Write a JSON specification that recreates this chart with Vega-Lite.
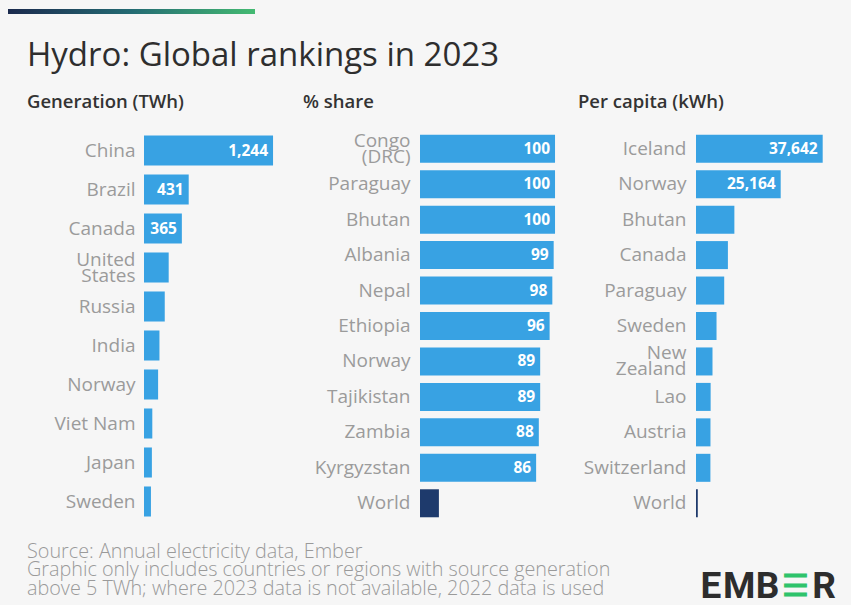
{
  "$schema": "https://vega.github.io/schema/vega-lite/v6.json",
  "background": "#f6f6f6",
  "padding": {"left": 8, "top": 9, "right": 16, "bottom": 14},
  "config": {
    "view": {"stroke": null},
    "font": "Open Sans",
    "axis": {
      "title": null, "ticks": false, "domain": false, "grid": false,
      "labelFont": "Open Sans", "labelFontSize": 19, "labelColor": "#9b9b9b",
      "labelPadding": 9, "labelLineHeight": 16,
      "labelExpr": "split(datum.label, '\\n')",
      "labelOffset": {"condition": {"test": "indexof(datum.label, '\\n') >= 0", "value": -8}, "value": 0}
    },
    "title": {"font": "Open Sans", "color": "#333333"}
  },
  "vconcat": [
    {
      "width": 111, "height": 10,
      "data": {"values": [{"k": "bar"}]},
      "mark": {"type": "rect", "color": {"gradient": "linear", "x1": 0, "x2": 1, "y1": 0, "y2": 0, "stops": [{"offset": 0, "color": "#1b2a4e"}, {"offset": 0.5, "color": "#246b73"}, {"offset": 1, "color": "#44ba72"}]}},
      "encoding": {
        "x": {"datum": -1.2252, "type": "quantitative", "scale": {"domain": [0, 1], "nice": false, "zero": false}, "axis": null},
        "x2": {"datum": 1},
        "y": {"datum": 0.5, "type": "quantitative", "scale": {"domain": [0, 1], "nice": false}, "axis": null},
        "y2": {"datum": 1}
      }
    },
    {
      "title": {"text": "Hydro: Global rankings in 2023", "anchor": "start", "frame": "group", "dx": -117, "fontSize": 33, "fontWeight": 500, "color": "#2e2e2e", "offset": -6, "baseline": "alphabetic"},
      "spacing": 20,
      "hconcat": [
        {
          "width": 139, "height": 390,
          "title": {"text": "Generation (TWh)", "anchor": "start", "frame": "group", "dx": -117, "offset": 5, "fontSize": 18.5, "fontWeight": 600, "baseline": "alphabetic"},
          "data": {"values": [
            {"country": "China", "value": 1244},
            {"country": "Brazil", "value": 431},
            {"country": "Canada", "value": 365},
            {"country": "United\nStates", "value": 238},
            {"country": "Russia", "value": 200},
            {"country": "India", "value": 149},
            {"country": "Norway", "value": 136},
            {"country": "Viet Nam", "value": 80},
            {"country": "Japan", "value": 76},
            {"country": "Sweden", "value": 67}
          ]},
          "encoding": {
            "y": {"field": "country", "type": "nominal", "sort": null, "scale": {"paddingInner": 0.23, "paddingOuter": 0.115}, "axis": {"minExtent": 136, "maxExtent": 136}},
            "x": {"field": "value", "type": "quantitative", "scale": {"domain": [0, 1340], "nice": false}, "axis": null}
          },
          "layer": [
            {"mark": {"type": "bar", "color": "#38a2e3"}},
            {"transform": [{"filter": "datum.value > 300"}],
             "mark": {"type": "text", "align": "right", "dx": -5, "color": "white", "fontWeight": "bold", "fontSize": 15.5, "font": "Open Sans"},
             "encoding": {"text": {"field": "value", "type": "quantitative", "format": ","}}}
          ]
        },
        {
          "width": 138, "height": 390,
          "title": {"text": "% share", "anchor": "start", "frame": "group", "dx": -117, "offset": 5, "fontSize": 18.5, "fontWeight": 600, "baseline": "alphabetic"},
          "data": {"values": [
            {"country": "Congo\n(DRC)", "value": 100},
            {"country": "Paraguay", "value": 100},
            {"country": "Bhutan", "value": 100},
            {"country": "Albania", "value": 99},
            {"country": "Nepal", "value": 98},
            {"country": "Ethiopia", "value": 96},
            {"country": "Norway", "value": 89},
            {"country": "Tajikistan", "value": 89},
            {"country": "Zambia", "value": 88},
            {"country": "Kyrgyzstan", "value": 86},
            {"country": "World", "value": 14}
          ]},
          "encoding": {
            "y": {"field": "country", "type": "nominal", "sort": null, "scale": {"paddingInner": 0.21, "paddingOuter": 0.105}, "axis": {"minExtent": 117, "maxExtent": 117, "labelPadding": 10}},
            "x": {"field": "value", "type": "quantitative", "scale": {"domain": [0, 102.2], "nice": false}, "axis": null}
          },
          "layer": [
            {"mark": {"type": "bar"},
             "encoding": {"color": {"condition": {"test": "datum.country === 'World'", "value": "#1e3a6c"}, "value": "#38a2e3"}}},
            {"transform": [{"filter": "datum.country !== 'World'"}],
             "mark": {"type": "text", "align": "right", "dx": -5, "color": "white", "fontWeight": "bold", "fontSize": 15.5, "font": "Open Sans"},
             "encoding": {"text": {"field": "value", "type": "quantitative", "format": ","}}}
          ]
        },
        {
          "width": 139, "height": 390,
          "title": {"text": "Per capita (kWh)", "anchor": "start", "frame": "group", "dx": -118, "offset": 5, "fontSize": 18.5, "fontWeight": 600, "baseline": "alphabetic"},
          "data": {"values": [
            {"country": "Iceland", "value": 37642},
            {"country": "Norway", "value": 25164},
            {"country": "Bhutan", "value": 11400},
            {"country": "Canada", "value": 9480},
            {"country": "Paraguay", "value": 8380},
            {"country": "Sweden", "value": 6100},
            {"country": "New\nZealand", "value": 4900},
            {"country": "Lao", "value": 4350},
            {"country": "Austria", "value": 4300},
            {"country": "Switzerland", "value": 4280},
            {"country": "World", "value": 530}
          ]},
          "encoding": {
            "y": {"field": "country", "type": "nominal", "sort": null, "scale": {"paddingInner": 0.21, "paddingOuter": 0.105}, "axis": {"minExtent": 118, "maxExtent": 118, "labelPadding": 10}},
            "x": {"field": "value", "type": "quantitative", "scale": {"domain": [0, 41300], "nice": false}, "axis": null}
          },
          "layer": [
            {"mark": {"type": "bar"},
             "encoding": {"color": {"condition": {"test": "datum.country === 'World'", "value": "#1e3a6c"}, "value": "#38a2e3"}}},
            {"transform": [{"filter": "datum.value > 20000"}],
             "mark": {"type": "text", "align": "right", "dx": -5, "color": "white", "fontWeight": "bold", "fontSize": 15.5, "font": "Open Sans"},
             "encoding": {"text": {"field": "value", "type": "quantitative", "format": ","}}}
          ]
        }
      ]
    },
    {
      "width": 691, "height": 28,
      "title": {
        "text": ["Source: Annual electricity data, Ember", "Graphic only includes countries or regions with source generation", "above 5 TWh; where 2023 data is not available, 2022 data is used"],
        "anchor": "start", "frame": "group", "dx": -117, "offset": -51, "fontSize": 19.8, "fontWeight": 300, "color": "#9a9a9a", "lineHeight": 18.8, "baseline": "bottom"
      },
      "data": {"values": [
        {"ch": "E", "i": 1, "part": "dark"},
        {"ch": "M", "i": 2, "part": "dark"},
        {"ch": "B", "i": 3, "part": "dark"},
        {"ch": "☰", "i": 4, "part": "green"},
        {"ch": "R", "i": 5, "part": "dark"}
      ]},
      "mark": {"type": "text", "font": "Roboto", "fontWeight": "bold", "baseline": "middle"},
      "encoding": {
        "x": {"field": "i", "type": "quantitative", "scale": {"domain": [-19.07, 5.39], "nice": false, "zero": false}, "axis": null},
        "text": {"field": "ch"},
        "size": {"condition": {"test": "datum.part === 'green'", "value": 30}, "value": 37},
        "color": {"field": "part", "type": "nominal", "scale": {"domain": ["dark", "green"], "range": ["#2d2d2d", "#2ec36b"]}, "legend": null}
      }
    }
  ],
  "spacing": 20
}
